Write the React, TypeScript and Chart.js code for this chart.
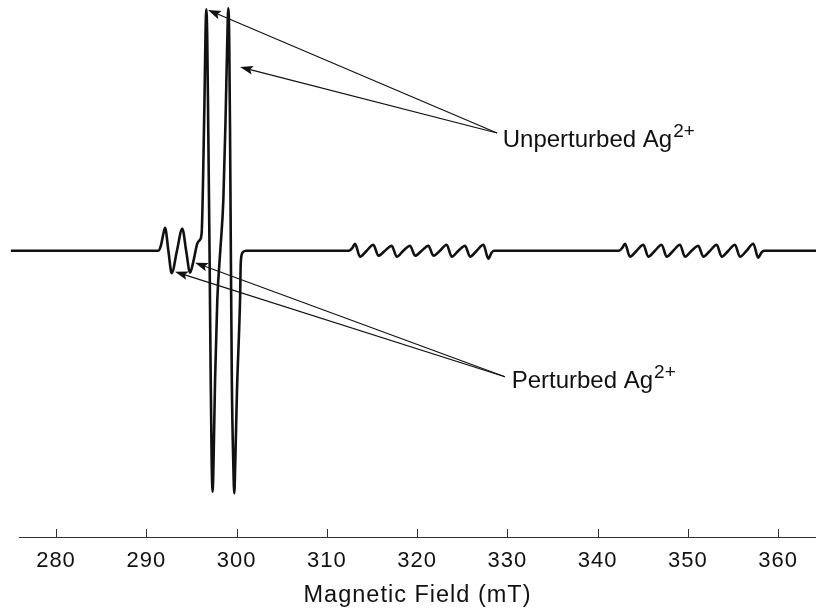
import React, { useEffect, useRef } from 'react';
import { Chart, registerables } from 'chart.js';

Chart.register(...registerables);

// ---- spectrum readings (field in mT, signal in arbitrary units, baseline = 0) ----
const FIELD_MT = [
  275.0, 280.0, 285.0, 290.0, 291.0,
  291.33, 291.62, 291.85, 292.08, 292.45, 292.82, 293.40, 293.99, 294.42, 294.85,
  295.21, 295.65, 295.95, 296.14,
  296.29, 296.45, 296.56, 296.65, 296.75, 296.87, 297.01, 297.14, 297.25, 297.35,
  297.45, 297.62, 297.87, 298.20, 298.54, 298.78, 298.98, 299.09, 299.19, 299.28,
  299.37, 299.48, 299.64, 299.75, 299.86, 300.05, 300.39, 300.47, 300.66, 301.05,
  305.0, 310.0, 312.46,
  312.85, 313.13, 313.68, 314.42, 315.16, 315.71, 316.45, 317.19, 317.75, 318.48,
  319.22, 319.78, 320.52, 321.25, 321.81, 322.54, 323.28, 323.84, 324.58, 325.32,
  325.87, 326.61, 327.35, 327.90, 328.25, 328.53,
  335.0, 340.0, 342.37,
  342.75, 343.04, 343.59, 344.33, 345.07, 345.62, 346.36, 347.10, 347.65, 348.39,
  349.13, 349.68, 350.42, 351.16, 351.71, 352.46, 353.20, 353.75, 354.49, 355.22,
  355.77, 356.51, 357.25, 357.80, 358.15, 358.44,
  360.0, 365.0,
];
const SIGNAL = [
  0, 0, 0, 0, 0,
  0, 5, 15, 23, 0, -22.5, 0, 22, 0, -22,
  -11, 7, 11, 18,
  70, 150, 215, 241.5, 215, 120, 0, -130, -212, -241,
  -212, -130, -49, 0, 51, 130, 212, 242.5, 212, 120,
  0, -130, -212, -242.5, -212, -140, -49, -12, -2, 0,
  0, 0, 0,
  3, 7, -6, 0, 6, -5, 0, 5, -6, 0,
  5, -5, 0, 5, -5, 0, 6, -6, 0, 5,
  -6, 0, 6, -8, -2, 0,
  0, 0, 0,
  3, 7, -6, 0, 6, -6, 0, 6, -6, 0,
  6, -6, 0, 5, -6, 0, 6, -6, 0, 6,
  -6, 0, 7, -7, -2, 0,
  0, 0,
];

const TICK_VALUES = [280, 290, 300, 310, 320, 330, 340, 350, 360];
const TICK_LABELS = ['280', '290', '300', '310', '320', '330', '340', '350', '360'];
const AXIS_TITLE = 'Magnetic Field (mT)';
const X_MIN = 275.9;
const X_MAX = 364.2;
const Y_MIN = -286.3;
const Y_MAX = 250.7;

// ---- annotations (data coordinates) ----
const LABEL_TEXT = ['Unperturbed Ag', 'Perturbed Ag'];
const LABEL_SUP = ['2+', '2+'];
const LABEL_X = [329.49, 330.48];
const LABEL_Y = [103.4, -137.3];
const LEADER_X = [328.86, 329.74];
const LEADER_Y = [117.7, -126.0];
const TIP_X = [[296.84, 300.39], [293.18, 295.40]];
const TIP_Y = [[240.7, 183.7], [-21.0, -12.0]];

const FONT = '"Liberation Sans", Arial, Helvetica, sans-serif';
const INK = '#111111';

function drawArrow(ctx: CanvasRenderingContext2D, x0: number, y0: number, x1: number, y1: number) {
  const ang = Math.atan2(y1 - y0, x1 - x0);
  const headLen = 13;
  const headHalf = 4.4;
  const bx = x1 - Math.cos(ang) * headLen * 0.8;
  const by = y1 - Math.sin(ang) * headLen * 0.8;
  ctx.beginPath();
  ctx.moveTo(x0, y0);
  ctx.lineTo(bx, by);
  ctx.stroke();
  const cx = x1 - Math.cos(ang) * headLen;
  const cy = y1 - Math.sin(ang) * headLen;
  const px = -Math.sin(ang) * headHalf;
  const py = Math.cos(ang) * headHalf;
  ctx.beginPath();
  ctx.moveTo(x1, y1);
  ctx.lineTo(cx + px, cy + py);
  ctx.lineTo(bx, by);
  ctx.lineTo(cx - px, cy - py);
  ctx.closePath();
  ctx.fill();
}

const spacingPlugin = {
  id: 'axisSpacing',
  beforeDraw(chart: any) {
    chart.ctx.letterSpacing = '1px';
  },
  beforeDatasetsDraw(chart: any) {
    chart.ctx.letterSpacing = '0px';
  },
};

const tickMarkPlugin = {
  id: 'inwardTicks',
  afterDatasetsDraw(chart: any) {
    const ctx: CanvasRenderingContext2D = chart.ctx;
    const xs = chart.scales.x;
    const bottom = chart.chartArea.bottom;
    ctx.save();
    ctx.strokeStyle = '#333333';
    ctx.lineWidth = 1;
    for (const v of TICK_VALUES) {
      const x = Math.round(xs.getPixelForValue(v)) + 0.5;
      ctx.beginPath();
      ctx.moveTo(x, bottom);
      ctx.lineTo(x, bottom - 8);
      ctx.stroke();
    }
    ctx.restore();
  },
};

const annotationPlugin = {
  id: 'arrowLabels',
  afterDraw(chart: any) {
    const ctx: CanvasRenderingContext2D = chart.ctx;
    const xs = chart.scales.x;
    const ys = chart.scales.y;
    ctx.save();
    (ctx as any).letterSpacing = '0px';
    ctx.strokeStyle = INK;
    ctx.fillStyle = INK;
    ctx.lineWidth = 1.2;
    for (let i = 0; i < LABEL_TEXT.length; i++) {
      const x0 = xs.getPixelForValue(LEADER_X[i]);
      const y0 = ys.getPixelForValue(LEADER_Y[i]);
      for (let j = 0; j < TIP_X[i].length; j++) {
        drawArrow(ctx, x0, y0, xs.getPixelForValue(TIP_X[i][j]), ys.getPixelForValue(TIP_Y[i][j]));
      }
      const tx = xs.getPixelForValue(LABEL_X[i]);
      const ty = ys.getPixelForValue(LABEL_Y[i]);
      ctx.font = `24px ${FONT}`;
      ctx.textAlign = 'left';
      ctx.textBaseline = 'alphabetic';
      ctx.fillText(LABEL_TEXT[i], tx, ty);
      const w = ctx.measureText(LABEL_TEXT[i]).width;
      ctx.font = `19px ${FONT}`;
      ctx.fillText(LABEL_SUP[i], tx + w + 1, ty - 10);
    }
    ctx.restore();
  },
};

export default function App() {
  const canvasRef = useRef<HTMLCanvasElement | null>(null);

  useEffect(() => {
    if (!canvasRef.current) return;
    const points = FIELD_MT.map((x, i) => ({ x, y: SIGNAL[i] }));
    const chart = new Chart(canvasRef.current, {
      type: 'line',
      data: {
        datasets: [
          {
            data: points,
            borderColor: INK,
            borderWidth: 2.6,
            pointRadius: 0,
            cubicInterpolationMode: 'monotone',
            fill: false,
            clip: false as any,
          } as any,
        ],
      },
      options: {
        responsive: false,
        devicePixelRatio: 1,
        animation: false,
        layout: { padding: { left: 19, right: 0, top: 0, bottom: 0 } },
        plugins: { legend: { display: false }, tooltip: { enabled: false } },
        scales: {
          x: {
            type: 'linear',
            min: X_MIN,
            max: X_MAX,
            afterBuildTicks: (scale: any) => {
              scale.ticks = TICK_VALUES.map((v) => ({ value: v }));
            },
            afterFit: (scale: any) => {
              scale.height = 72;
            },
            grid: { display: true, drawOnChartArea: false, drawTicks: false },
            border: { display: true, color: '#333333', width: 1 },
            ticks: {
              autoSkip: false,
              maxRotation: 0,
              padding: 11,
              color: INK,
              font: { family: FONT, size: 22 },
              callback: (value: any) => {
                const idx = TICK_VALUES.indexOf(Number(value));
                return idx >= 0 ? TICK_LABELS[idx] : '';
              },
            },
            title: {
              display: true,
              text: AXIS_TITLE,
              color: INK,
              font: { family: FONT, size: 23.5 },
              padding: { top: 0, bottom: -1 },
            },
          },
          y: {
            type: 'linear',
            display: false,
            min: Y_MIN,
            max: Y_MAX,
          },
        },
      },
      plugins: [spacingPlugin, tickMarkPlugin, annotationPlugin],
    } as any);
    return () => chart.destroy();
  }, []);

  return (
    <div style={{ position: 'absolute', left: 0, top: 0, width: 816, height: 609, background: '#ffffff' }}>
      <canvas ref={canvasRef} width={816} height={609} style={{ display: 'block' }} />
    </div>
  );
}
